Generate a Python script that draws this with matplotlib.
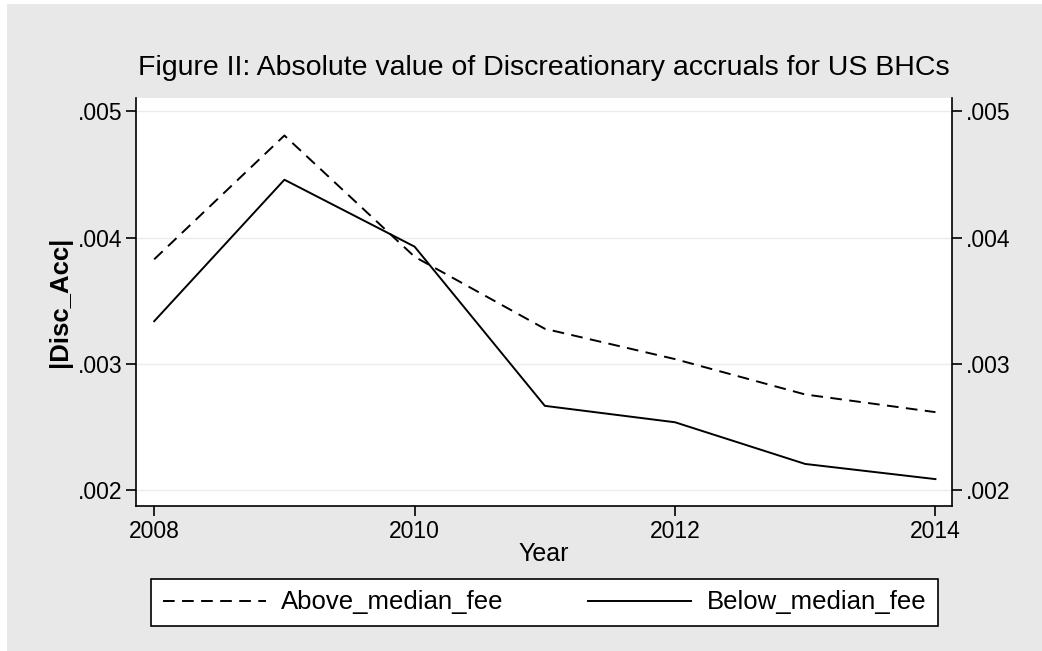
import matplotlib
matplotlib.use("Agg")
import matplotlib.pyplot as plt

years = [2008, 2009, 2010, 2011, 2012, 2013, 2014]
above_median = [0.00383, 0.00481, 0.00385, 0.00328, 0.00304, 0.00276, 0.00262]
below_median = [0.00334, 0.00446, 0.00393, 0.00267, 0.00254, 0.00221, 0.00209]
y_ticks = [0.002, 0.003, 0.004, 0.005]
y_tick_labels = [".002", ".003", ".004", ".005"]
x_ticks = [2008, 2010, 2012, 2014]

plt.rcParams['font.family'] = ['Liberation Sans', 'DejaVu Sans']

fig = plt.figure(figsize=(10.42, 6.51), dpi=100, facecolor="#e8e8e8")
ax = fig.add_axes([0.1305, 0.2227, 0.7831, 0.6268])
ax.set_facecolor("white")

ax.plot(years, above_median, color="black", lw=1.4, linestyle=(0, (6, 3.8)),
        label="Above_median_fee")
ax.plot(years, below_median, color="black", lw=1.4, label="Below_median_fee")

ax.set_xlim(2007.86, 2014.127)
ax.set_ylim(0.001877, 0.005107)
ax.set_xticks(x_ticks)
ax.set_yticks(y_ticks)
ax.set_yticklabels(y_tick_labels)
ax.grid(axis="y", color="#ececec", lw=1)
ax.set_axisbelow(True)

for s in ["left", "right", "bottom"]:
    ax.spines[s].set_color("black")
    ax.spines[s].set_linewidth(1.2)
ax.spines["top"].set_visible(False)

ax.tick_params(axis="both", direction="out", length=7, width=1.2,
               labelsize=16.5, color="black", pad=3)
ax.tick_params(axis="y", which="both", right=True, labelright=True)

ax.set_xlabel("Year", fontsize=18, labelpad=-1)
ax.set_ylabel("|Disc_Acc|", fontsize=18.5, fontweight="bold", labelpad=4)

fig.text(0.5215, 0.8955, "Figure II: Absolute value of Discreationary accruals for US BHCs",
         ha="center", va="center", fontsize=20.5)

leg = fig.legend(loc="center", bbox_to_anchor=(0.5226, 1 - 602.5 / 651), ncol=2,
                 fontsize=18.5, handlelength=4.0, columnspacing=3.3,
                 frameon=True, fancybox=False, edgecolor="black", framealpha=1,
                 borderpad=0.45, handletextpad=0.6)
leg.get_frame().set_linewidth(1.2)
leg.get_frame().set_facecolor("white")

# thin white margin along the top and left edges, as in the original export
fig.patches.append(plt.Rectangle((0, 1 - 4 / 651), 1, 4 / 651, transform=fig.transFigure,
                                 facecolor="white", edgecolor="none"))
fig.patches.append(plt.Rectangle((0, 0), 7 / 1042, 1, transform=fig.transFigure,
                                 facecolor="white", edgecolor="none"))

fig.savefig("out.png", dpi=100, facecolor=fig.get_facecolor())
